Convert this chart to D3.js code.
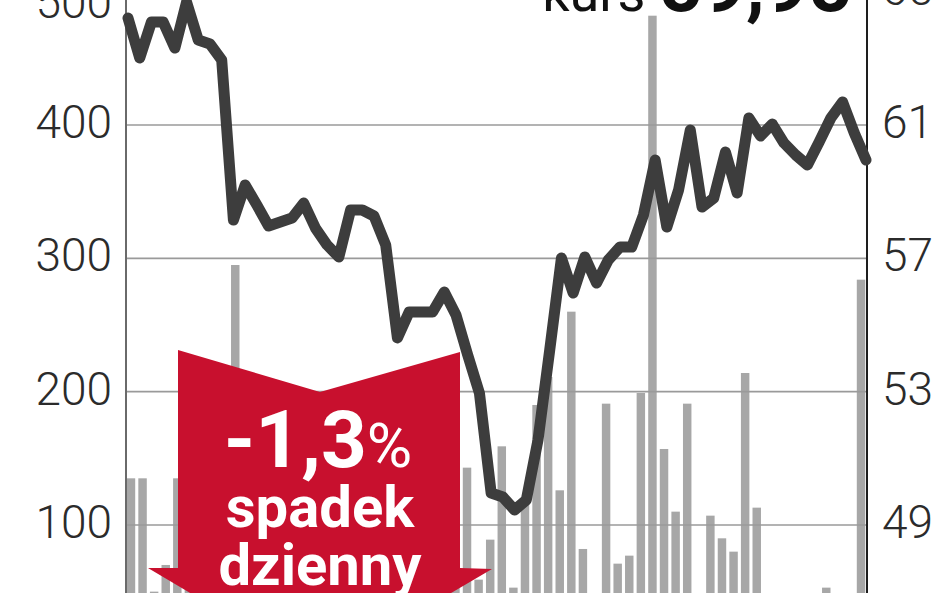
<!DOCTYPE html>
<html>
<head>
<meta charset="utf-8">
<script src="https://cdn.jsdelivr.net/npm/d3@7"></script>
<style>
 body { margin: 0; background: #fff; }
 svg { display: block; }
</style>
</head>
<body>
<svg width="948" height="593"></svg>
<script>
// session days (index only, no dates on the chart)
var days = d3.range(1, 65);

// volume bars (left axis)
var volume = [135, 135, 50, 70, 135, 90, 60, 110, 80, 295,
  120, 85, 60, 150, 95, 70, 110, 180, 75, 130,
  65, 100, 140, 90, 55, 120, 80, 160, 100, 143,
  59, 89, 159, 53, 120, 190, 211, 126, 260, 82,
  40, 191, 71, 77, 199, 482, 157, 110, 191, 40,
  107, 90, 80, 214, 113, 30, 25, 40, 35, 20,
  53, 30, 25, 284];

// closing price (right axis)
var price = [64.21, 63.01, 64.09, 64.09, 63.31, 64.69, 63.55, 63.43, 62.95, 58.15,
  59.2, 58.6, 57.97, 58.09, 58.21, 58.66, 57.91, 57.4, 57.04, 58.45,
  58.45, 58.27, 57.4, 54.61, 55.39, 55.39, 55.39, 55.99, 55.3, 54.1,
  52.96, 49.96, 49.84, 49.45, 49.75, 51.55, 54.25, 57.01, 55.96, 57.04,
  56.26, 56.95, 57.34, 57.34, 58.3, 59.95, 57.94, 59.05, 60.85, 58.54,
  58.81, 60.19, 58.96, 61.21, 60.67, 61.03, 60.46, 60.1, 59.8, 60.49,
  61.21, 61.69, 60.76, 59.95];

var volTicks = [100, 200, 300, 400, 500];
var priceTicks = [49, 53, 57, 61, 65];

var kursLabel = "kurs ";
var kursValue = "59,95";
var changeValue = "-1,3";
var changeLines = ["spadek", "dzienny"];

var svg = d3.select("svg"),
  width = +svg.attr("width"),
  height = +svg.attr("height");

var left = 126, right = 867;

// scales: 100 sits at y=525, each 100 is 133 px
var yVol = d3.scaleLinear().domain([0, 500]).range([658.3, -8.3]);
var yPrice = d3.scaleLinear().domain([49, 65]).range([525, -8.3]);

var xBar = d3.scaleBand()
  .domain(days)
  .range([left - 1, right])
  .paddingInner(0.27)
  .paddingOuter(0.15);

var xLine = d3.scalePoint()
  .domain(days)
  .range([left + 2, right - 1]);

// volume bars
svg.append("g")
  .selectAll("rect")
  .data(volume)
  .enter().append("rect")
  .attr("x", function(d, i) { return xBar(days[i]); })
  .attr("width", xBar.bandwidth())
  .attr("y", function(d) { return yVol(d); })
  .attr("height", function(d) { return yVol(0) - yVol(d); })
  .attr("fill", "#a7a7a7");

// horizontal grid
svg.append("g")
  .selectAll("line")
  .data(volTicks)
  .enter().append("line")
  .attr("x1", left)
  .attr("x2", right)
  .attr("y1", function(d) { return yVol(d); })
  .attr("y2", function(d) { return yVol(d); })
  .attr("stroke", "#9a9a9a")
  .attr("stroke-width", 1.6);

// vertical axis lines
svg.append("line")
  .attr("x1", left).attr("x2", left)
  .attr("y1", 0).attr("y2", height)
  .attr("stroke", "#6a6a6a")
  .attr("stroke-width", 2);

svg.append("line")
  .attr("x1", right).attr("x2", right)
  .attr("y1", 0).attr("y2", height)
  .attr("stroke", "#1e1e1e")
  .attr("stroke-width", 2);

// price line
var line = d3.line()
  .x(function(d, i) { return xLine(days[i]); })
  .y(function(d) { return yPrice(d); });

svg.append("path")
  .datum(price)
  .attr("d", line)
  .attr("fill", "none")
  .attr("stroke", "#3d3d3d")
  .attr("stroke-width", 11)
  .attr("stroke-linejoin", "round")
  .attr("stroke-linecap", "round");

// axes
var axisL = svg.append("g")
  .attr("transform", "translate(" + left + ",0)")
  .call(d3.axisLeft(yVol).tickValues(volTicks).tickSize(0).tickPadding(14));

var axisR = svg.append("g")
  .attr("transform", "translate(" + right + ",0)")
  .call(d3.axisRight(yPrice).tickValues(priceTicks).tickSize(0).tickPadding(15));

[axisL, axisR].forEach(function(a) {
  a.select(".domain").remove();
  a.selectAll("text")
    .attr("dy", "0.27em")
    .style("font-family", "Roboto, 'Liberation Sans', sans-serif")
    .style("font-weight", 300)
    .style("font-size", "46px")
    .attr("fill", "#2b2b2b");
});

// top label on the left is kept inside the picture
axisL.selectAll(".tick text")
  .filter(function(d) { return d === 500; })
  .attr("dy", "0.55em");

// red arrow with the daily change
var arrow = [[178, 350], [320, 392], [460, 352], [460, 568], [492, 569],
  [320, 670], [148, 568], [178, 568]];

svg.append("path")
  .attr("d", d3.line()(arrow) + "Z")
  .attr("fill", "#c8102e");

var t1 = svg.append("text")
  .attr("x", 318)
  .attr("y", 467)
  .attr("text-anchor", "middle")
  .attr("fill", "#fff")
  .style("font-family", "Roboto, 'Liberation Sans', sans-serif");

t1.append("tspan")
  .style("font-weight", 700)
  .style("font-size", "80px")
  .text(changeValue);

t1.append("tspan")
  .style("font-weight", 400)
  .style("font-size", "62px")
  .text("%");

svg.selectAll(".change-line")
  .data(changeLines)
  .enter().append("text")
  .attr("class", "change-line")
  .attr("x", 320)
  .attr("y", function(d, i) { return 527 + i * 58; })
  .attr("text-anchor", "middle")
  .attr("fill", "#fff")
  .style("font-family", "Roboto, 'Liberation Sans', sans-serif")
  .style("font-weight", 700)
  .style("font-size", "58px")
  .text(function(d) { return d; });

// current price, mostly cut by the top edge
var kurs = svg.append("text")
  .attr("x", 852)
  .attr("y", 11)
  .attr("text-anchor", "end")
  .attr("fill", "#111")
  .style("font-family", "Roboto, 'Liberation Sans', sans-serif");

kurs.append("tspan")
  .style("font-weight", 400)
  .style("font-size", "54px")
  .text(kursLabel);

kurs.append("tspan")
  .style("font-weight", 700)
  .style("font-size", "76px")
  .text(kursValue);
</script>
</body>
</html>
